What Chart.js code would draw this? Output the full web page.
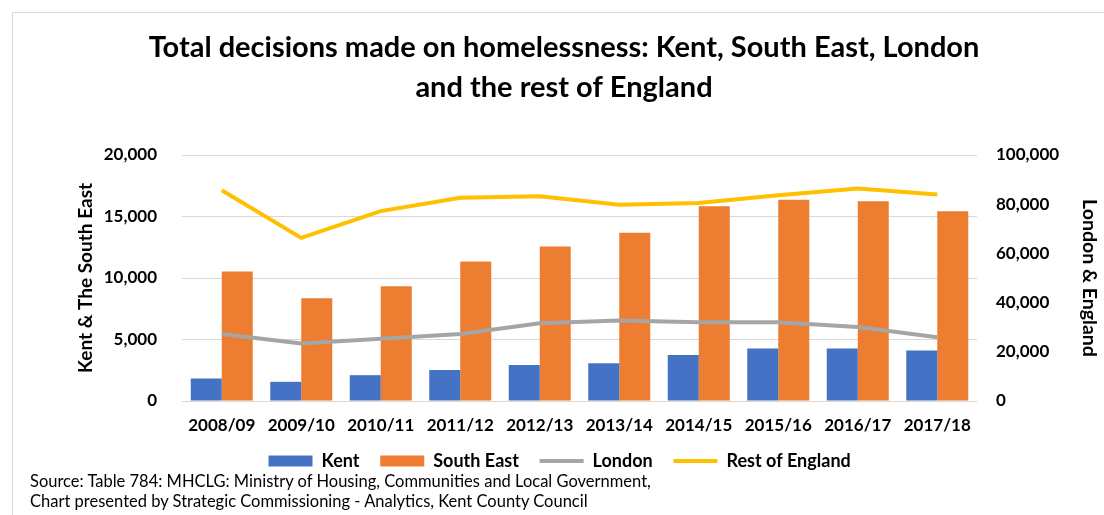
<!DOCTYPE html>
<html>
<head>
<meta charset="utf-8">
<script src="https://cdn.jsdelivr.net/npm/chart.js@4"></script>
<style>
  html, body { margin: 0; padding: 0; background: #fff; }
  #wrap { position: relative; width: 1104px; height: 515px; overflow: hidden; }
  #frame { position: absolute; left: 12px; top: 12px; width: 1100px; height: 510px;
           border-top: 1px solid #d9d9d9; border-left: 1px solid #d9d9d9; }
  canvas { position: absolute; left: 0; top: 0; }
  .src { position: absolute; left: 30px; font: 16.5px Lato, sans-serif; color: #000; white-space: nowrap; }
</style>
</head>
<body>
<div id="wrap">
  <div id="frame"></div>
  <canvas id="chart" width="1104" height="515"></canvas>
  <div class="src" style="top:471px">Source: Table 784: MHCLG: Ministry of Housing, Communities and Local Government,</div>
  <div class="src" style="top:491px">Chart presented by Strategic Commissioning - Analytics, Kent County Council</div>
</div>
<script>
// yearly totals of homelessness decisions
const years = ['2008/09', '2009/10', '2010/11', '2011/12', '2012/13', '2013/14', '2014/15', '2015/16', '2016/17', '2017/18'];
const kent = [1830, 1560, 2100, 2520, 2930, 3060, 3750, 4260, 4260, 4110];
const southEast = [10520, 8360, 9320, 11340, 12570, 13670, 15830, 16370, 16240, 15420];
const london = [27200, 23400, 25300, 27200, 31600, 32700, 32000, 32000, 30100, 25900];
const restOfEngland = [85700, 66300, 77200, 82600, 83200, 79800, 80500, 83600, 86400, 83900];

const fmt = v => v.toLocaleString('en-GB');
const bold = size => ({ family: 'Lato', weight: 'bold', size: size });

new Chart(document.getElementById('chart'), {
    data: {
        labels: years,
        datasets: [
            { type: 'bar', label: 'Kent', data: kent, backgroundColor: '#4472C4', yAxisID: 'y', order: 2, pointStyle: 'rect' },
            { type: 'bar', label: 'South East', data: southEast, backgroundColor: '#ED7D31', yAxisID: 'y', order: 2, pointStyle: 'rect' },
            { type: 'line', label: 'London', data: london, borderColor: '#A5A5A5', backgroundColor: '#A5A5A5',
              borderWidth: 4, pointRadius: 0, tension: 0, yAxisID: 'y1', order: 1, pointStyle: 'line' },
            { type: 'line', label: 'Rest of England', data: restOfEngland, borderColor: '#FFC000', backgroundColor: '#FFC000',
              borderWidth: 4, pointRadius: 0, tension: 0, yAxisID: 'y1', order: 0, pointStyle: 'line' }
        ]
    },
    options: {
        responsive: false,
        animation: false,
        layout: { padding: { top: 0, bottom: 35, left: 24, right: 0 } },
        datasets: { bar: { categoryPercentage: 0.78, barPercentage: 1.0 } },
        plugins: {
            title: {
                display: true,
                text: ['Total decisions made on homelessness: Kent, South East, London', 'and the rest of England'],
                color: '#000',
                font: { family: 'Lato', weight: 'bold', size: 29, lineHeight: '40px' },
                padding: { top: 28, bottom: 47 }
            },
            legend: {
                position: 'bottom',
                labels: {
                    usePointStyle: true,
                    pointStyleWidth: 44,
                    boxWidth: 44,
                    boxHeight: 11,
                    padding: 12,
                    color: '#000',
                    font: bold(18),
                    sort: (a, b) => a.datasetIndex - b.datasetIndex,
                    // a little extra room after each entry
                    generateLabels: chart => Chart.defaults.plugins.legend.labels.generateLabels(chart)
                        .map(item => Object.assign(item, { text: item.text + '  ' }))
                }
            },
            tooltip: { enabled: false }
        },
        scales: {
            x: {
                grid: { display: false, drawTicks: false },
                border: { display: false },
                ticks: { color: '#000', font: bold(17), padding: 14, maxRotation: 0 },
                afterFit: s => { s.height = 39; }
            },
            y: {
                position: 'left',
                min: 0, max: 20000,
                ticks: { stepSize: 5000, color: '#000', font: bold(17), padding: 25, callback: fmt },
                grid: { color: '#d9d9d9', drawTicks: false },
                border: { display: false },
                title: { display: true, text: 'Kent & The South East', color: '#000', font: bold(19), padding: { top: 50.6, bottom: 0 } },
                afterFit: s => { s.width = 158; }
            },
            y1: {
                position: 'right',
                min: 0, max: 100000,
                ticks: { stepSize: 20000, color: '#000', font: bold(17), padding: 19, callback: fmt },
                grid: { drawOnChartArea: false, drawTicks: false },
                border: { display: false },
                title: { display: true, text: 'London & England', color: '#000', font: bold(19.5), padding: { top: 3.5, bottom: 0 } },
                afterFit: s => { s.width = 127; }
            }
        }
    }
});
</script>
</body>
</html>
